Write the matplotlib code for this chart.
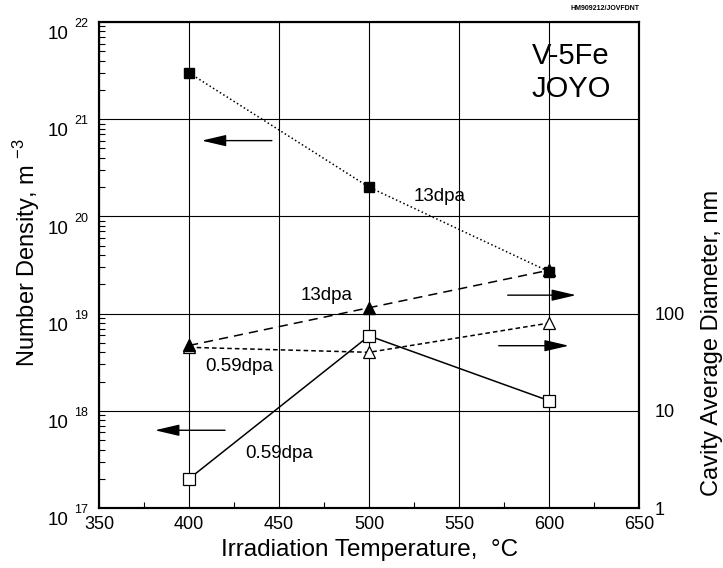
import numpy as np
import matplotlib
matplotlib.use("Agg")
import matplotlib.pyplot as plt
from matplotlib.ticker import LogLocator, NullFormatter, FixedLocator

plt.rcParams['font.family'] = ['Liberation Sans', 'DejaVu Sans']
plt.rcParams['mathtext.fontset'] = 'custom'
plt.rcParams['mathtext.rm'] = 'Liberation Sans'

# Irradiation temperature [C]
temps = [400, 500, 600]

# Number density [m^-3] (left axis, squares)
dens_13dpa = [3.0e21, 2.0e20, 2.7e19]
dens_059dpa = [2.0e17, 5.9e18, 1.27e18]

# Cavity average diameter [nm] (right axis, triangles)
diam_13dpa = [47, 115, 280]
diam_059dpa = [45, 40, 80]

xticks = [350, 400, 450, 500, 550, 600, 650]
decades = [17, 18, 19, 20, 21, 22]
right_ticks = [1, 10, 100]

fig = plt.figure(figsize=(7.23, 5.68), dpi=100)
ax = fig.add_axes([0.137, 0.1056, 0.747, 0.8556])

ax.set_xlim(350, 650)
ax.set_yscale('log')
ax.set_ylim(1e17, 1e22)
ax.set_xticks(xticks)
ax.xaxis.set_minor_locator(FixedLocator([375, 425, 475, 525, 575, 625]))
ax.yaxis.set_major_locator(FixedLocator([10.0**d for d in decades]))
ax.yaxis.set_minor_locator(LogLocator(base=10, subs=np.arange(2, 10), numticks=20))
ax.yaxis.set_minor_formatter(NullFormatter())
ax.set_yticklabels([])
ax.grid(True, which='major', color='k', lw=0.8)
ax.tick_params(which='both', direction='in', right=True)
ax.tick_params(which='major', length=0)
ax.tick_params(which='minor', length=4, width=0.8)
ax.tick_params(axis='x', labelsize=13, pad=6)
for s in ax.spines.values():
    s.set_linewidth(1.5)

# left tick labels drawn as "10" with a raised exponent
for d in decades:
    ax.annotate('10', xy=(0, 10.0**d), xycoords=('axes fraction', 'data'),
                xytext=(-22, -3), textcoords='offset points',
                ha='right', va='top', fontsize=13.5)
    ax.annotate(str(d), xy=(0, 10.0**d), xycoords=('axes fraction', 'data'),
                xytext=(-8, -1.5), textcoords='offset points',
                ha='right', va='center', fontsize=9)

# number density: squares
ax.plot(temps, dens_13dpa, color='k', ls=':', lw=1.1, marker='s', ms=7.5,
        mfc='k', mec='k', zorder=5, clip_on=False)
ax.plot(temps, dens_059dpa, color='k', ls='-', lw=1.1, marker='s', ms=8,
        mfc='white', mec='k', mew=0.9, zorder=5, clip_on=False)

ax.set_xlabel('Irradiation Temperature,  °C', fontsize=17.5, labelpad=4)
ax.set_ylabel('Number Density, m $^{-3}$', fontsize=17)
ax.yaxis.set_label_coords(-0.135, 0.525)
ax.yaxis.label.set_va('center')

# cavity diameter: triangles on the right axis
ax2 = ax.twinx()
ax2.set_yscale('log')
ax2.set_ylim(1, 1e5)
ax2.yaxis.set_major_locator(FixedLocator(right_ticks))
ax2.yaxis.set_minor_locator(FixedLocator([]))
ax2.set_yticklabels([str(v) for v in right_ticks])
ax2.tick_params(axis='y', length=0, labelsize=13, pad=11)
ax2.plot(temps, diam_059dpa, color='k', ls=(0, (3, 2)), lw=1.1, marker='^', ms=9,
         mfc='white', mec='k', mew=0.9, zorder=4)
ax2.plot(temps, diam_13dpa, color='k', ls=(0, (6, 4)), lw=1.1, marker='^', ms=9,
         mfc='k', mec='k', zorder=5)
ax2.set_ylabel('Cavity Average Diameter, nm', fontsize=17)
ax2.yaxis.set_label_coords(1.135, 0.34)
ax2.yaxis.label.set_va('center')
for s in ax2.spines.values():
    s.set_linewidth(1.5)

# arrows pointing to the relevant axis
arrow = dict(arrowstyle='-|>,head_length=1.5,head_width=0.35', color='k', lw=1,
             shrinkA=0, shrinkB=0)
ax.annotate('', xy=(407, 10**20.78), xytext=(446, 10**20.78), arrowprops=arrow)
ax.annotate('', xy=(381, 10**17.80), xytext=(420, 10**17.80), arrowprops=arrow)
ax.annotate('', xy=(615, 10**19.19), xytext=(577, 10**19.19), arrowprops=arrow)
ax.annotate('', xy=(611, 10**18.67), xytext=(572, 10**18.67), arrowprops=arrow)

# labels
ax.text(525, 10**20.2, '13dpa', fontsize=13.5, va='center', ha='left')
ax.text(462, 10**19.19, '13dpa', fontsize=13.5, va='center', ha='left')
ax.text(409, 10**18.46, '0.59dpa', fontsize=13.5, va='center', ha='left')
ax.text(431, 10**17.56, '0.59dpa', fontsize=13.5, va='center', ha='left')
ax.text(612, 10**21.48, 'V-5Fe\nJOYO', fontsize=21, va='center', ha='center',
        linespacing=1.2)
fig.text(0.885, 0.992, 'HM909212/JOVFDNT', fontsize=5, ha='right', va='top',
         fontweight='bold')

fig.savefig('out.png', dpi=100)
